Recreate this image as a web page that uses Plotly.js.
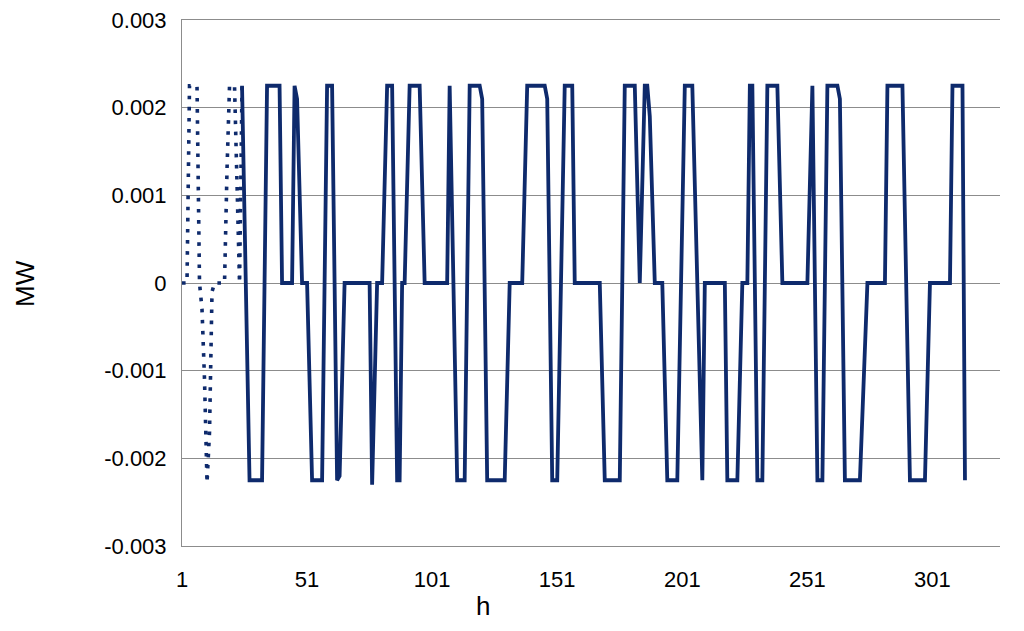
<!DOCTYPE html>
<html>
<head>
<meta charset="utf-8">
<script src="https://cdn.plot.ly/plotly-3.0.1.min.js"></script>
<style>html,body{margin:0;padding:0;background:#fff;}#chart{width:1024px;height:631px;}</style>
</head>
<body>
<div id="chart"></div>
<script>
// Dotted series (start-up part)
const hDotted  = [1, 3, 4, 7, 8, 9, 10, 11, 12, 13, 14, 18, 19, 20, 22, 23, 24, 25];
const mwDotted = [0, 0, 0.00225, 0.00225, 0, -0.0003, -0.0011, -0.00228, -0.0017, -0.0001, 0, 0, 0.0013, 0.00225, 0.00225, 0.0011, 0, 0.00225];

// Solid series
const hSolid = [25, 28, 33, 35, 40, 41, 45, 46, 47, 49, 51, 53, 57, 59, 61, 63, 64, 66, 76, 77, 79, 81, 83, 85, 87, 88, 89, 90, 92, 96, 98,
  107, 108, 111, 114, 116, 120, 121, 123, 130, 132, 137, 139, 146, 147, 149, 151, 154, 157, 158, 168, 170, 176, 178, 182, 184, 186, 187, 188, 190, 193, 195, 199,
  202, 205, 207, 209, 210, 218, 219, 223, 225, 227, 228, 229, 231, 233, 235, 239, 241, 251, 253, 255, 257, 259, 263, 264, 266, 272, 275, 282, 283, 289, 292, 298,
  300, 308, 309, 313, 314];
const mwSolid = [0.00225, -0.00225, -0.00225, 0.00225, 0.00225, 0, 0, 0.00225, 0.0021, 0, 0, -0.00225, -0.00225, 0.00225, 0.00225, -0.00225, -0.0022, 0, 0, -0.0023, 0, 0, 0.00225, 0.00225, -0.00225, -0.00225, 0, 0, 0.00225, 0.00225, 0,
  0, 0.00225, -0.00225, -0.00225, 0.00225, 0.00225, 0.0021, -0.00225, -0.00225, 0, 0, 0.00225, 0.00225, 0.0021, -0.00225, -0.00225, 0.00225, 0.00225, 0, 0, -0.00225, -0.00225, 0.00225, 0.00225, 0, 0.00225, 0.00225, 0.0019, 0, 0, -0.00225, -0.00225,
  0.00225, 0.00225, 0.0001, -0.00225, 0, 0, -0.00225, -0.00225, 0, 0, 0.00225, 0.00225, -0.00225, -0.00225, 0.00225, 0.00225, 0, 0, 0.00225, -0.00225, -0.00225, 0.00225, 0.00225, 0.0021, -0.00225, -0.00225, 0, 0, 0.00225, 0.00225, -0.00225, -0.00225,
  0, 0, 0.00225, 0.00225, -0.00225];

// Axis ticks
const xTickVals = [1, 51, 101, 151, 201, 251, 301];
const xTickText = ['1', '51', '101', '151', '201', '251', '301'];
const yTickVals = [-0.003, -0.002, -0.001, 0, 0.001, 0.002, 0.003];
const yTickText = ['-0.003', '-0.002', '-0.001', '0', '0.001', '0.002', '0.003'];

const lineColor = '#0e2a6c';
const gridColor = '#8c8c8c';
const fontFam = '"Liberation Sans", Arial, sans-serif';

const traces = [
  {x: hDotted, y: mwDotted, type: 'scatter', mode: 'lines',
   line: {color: lineColor, width: 3.6, dash: '3.6px,7.5px'}, hoverinfo: 'skip'},
  {x: hSolid, y: mwSolid, type: 'scatter', mode: 'lines',
   line: {color: lineColor, width: 3.8}, hoverinfo: 'skip'}
];

const layout = {
  width: 1024, height: 631,
  margin: {l: 182, r: 24, t: 20, b: 85},
  paper_bgcolor: '#ffffff', plot_bgcolor: '#ffffff',
  showlegend: false,
  font: {family: fontFam, color: '#000000', size: 21},
  xaxis: {
    range: [1, 328], tickmode: 'array', tickvals: xTickVals, ticktext: xTickText,
    showgrid: false, zeroline: false, showline: true, mirror: true, linecolor: gridColor, linewidth: 1, ticks: '',
    ticklabelstandoff: 14, tickfont: {size: 22, family: fontFam, color: '#000'}
  },
  xaxis2: {
    overlaying: 'x', anchor: 'free', position: 0.5,
    range: [1, 328], tickmode: 'array', tickvals: xTickVals,
    showticklabels: false, ticks: 'outside', ticklen: 7, tickwidth: 1, tickcolor: gridColor,
    showline: true, linecolor: gridColor, linewidth: 1, showgrid: false, zeroline: false
  },
  yaxis: {
    range: [-0.003, 0.003], tickmode: 'array', tickvals: yTickVals, ticktext: yTickText,
    showgrid: true, gridcolor: gridColor, gridwidth: 1, zeroline: false,
    showline: true, linecolor: gridColor, linewidth: 1, ticks: '',
    ticklabelstandoff: 10, tickfont: {size: 22, family: fontFam, color: '#000'}
  },
  annotations: [
    {text: 'h', xref: 'paper', yref: 'paper', x: 0.368, y: -0.115, xanchor: 'center', yanchor: 'middle',
     showarrow: false, font: {size: 26, family: fontFam, color: '#000'}},
    {text: 'MW', xref: 'paper', yref: 'paper', x: -0.192, y: 0.5, xanchor: 'center', yanchor: 'middle',
     textangle: -90, showarrow: false, font: {size: 26, family: fontFam, color: '#000'}}
  ]
};

Plotly.newPlot('chart', traces, layout, {staticPlot: true, displayModeBar: false});
</script>
</body>
</html>
